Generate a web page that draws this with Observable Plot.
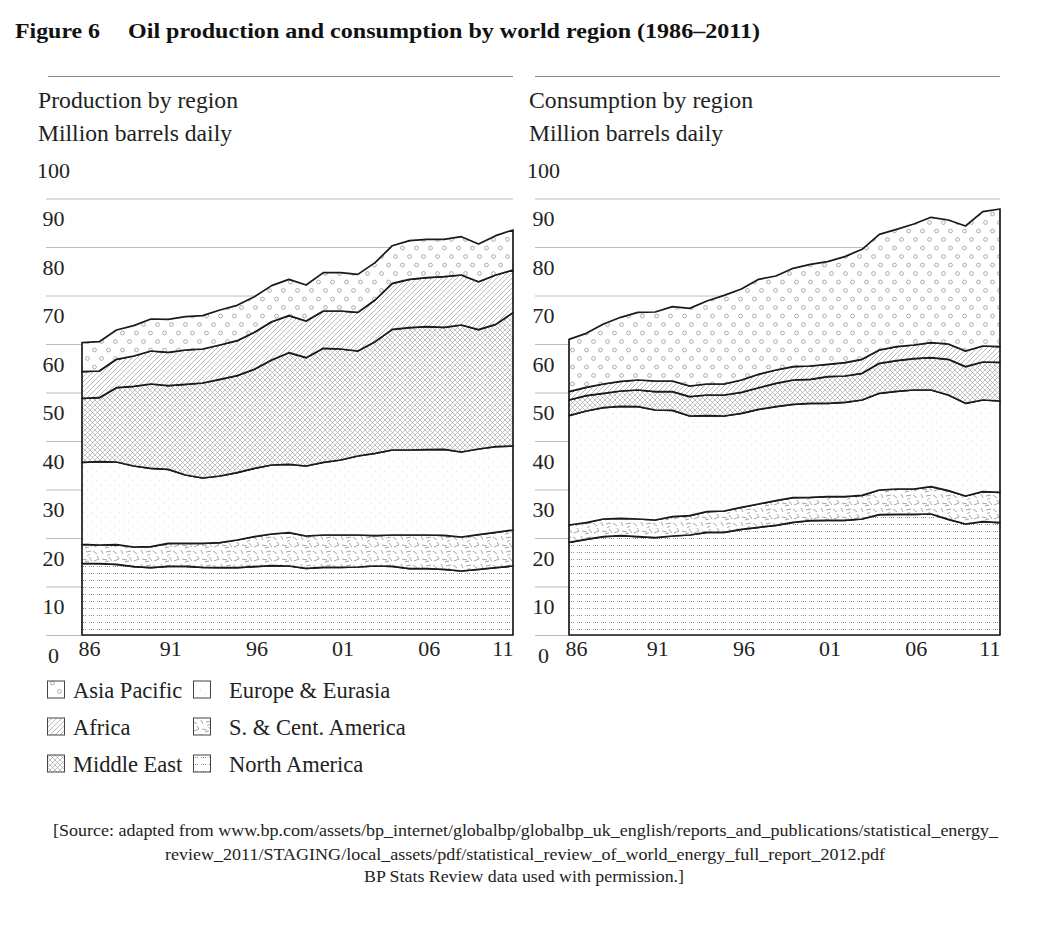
<!DOCTYPE html>
<html><head><meta charset="utf-8">
<script src="https://cdn.jsdelivr.net/npm/d3@7"></script>
<script src="https://cdn.jsdelivr.net/npm/@observablehq/plot@0.6"></script>
<style>
html,body{margin:0;padding:0;background:#fff;}
body{width:1055px;height:925px;position:relative;overflow:hidden;font-family:"Liberation Serif","Times New Roman",serif;color:#222;}
.abs{position:absolute;}
</style></head><body>
<svg width="0" height="0" style="position:absolute">
<defs>
  <pattern id="pNA" width="8" height="7" patternUnits="userSpaceOnUse">
    <rect width="8" height="7" fill="#fff"/>
    <rect x="1" y="3" width="1" height="1" fill="#8c8c8c"/>
    <rect x="3" y="3" width="1" height="1" fill="#8c8c8c"/>
    <rect x="5" y="3" width="1" height="1" fill="#8c8c8c"/>
  </pattern>
  <pattern id="pSCA" width="20" height="14" patternUnits="userSpaceOnUse">
    <rect width="20" height="14" fill="#fff"/>
    <path d="M2 3 l5 1 M9 1 l3 4 M14 5 l5 -2 M1 8 l2 4 M6 10 l5 -1 M13 9 l4 3 M17 0 l2 3 M5 6 l4 -1 M10 12 l-3 2" stroke="#8c8c8c" stroke-width="0.8" fill="none"/>
  </pattern>
  <pattern id="pEU" width="9" height="9" patternUnits="userSpaceOnUse">
    <rect width="9" height="9" fill="#fff"/>
    <rect x="2" y="2" width="1" height="1" fill="#dcdcdc"/>
    <rect x="6" y="6" width="1" height="1" fill="#e2e2e2"/>
  </pattern>
  <pattern id="pME" width="5" height="5" patternUnits="userSpaceOnUse">
    <rect width="5" height="5" fill="#fff"/>
    <path d="M-1 -1 L6 6 M6 -1 L-1 6" stroke="#999" stroke-width="0.6" fill="none"/>
  </pattern>
  <pattern id="pAF" width="5" height="5" patternUnits="userSpaceOnUse">
    <rect width="5" height="5" fill="#fff"/>
    <path d="M-1 6 L6 -1 M-1 1 L1 -1 M4 6 L6 4" stroke="#999" stroke-width="0.7" fill="none"/>
  </pattern>
  <pattern id="pAP" width="14" height="17" patternUnits="userSpaceOnUse">
    <rect width="14" height="17" fill="#fff"/>
    <circle cx="3.5" cy="4.5" r="1.9" stroke="#8a8a8a" stroke-width="0.7" fill="none"/>
    <circle cx="10.5" cy="13" r="1.9" stroke="#8a8a8a" stroke-width="0.7" fill="none"/>
  </pattern>
</defs>
</svg>

<svg class="abs" style="left:0;top:0" width="1055" height="150">
  <text x="15" y="38" font-weight="bold" font-size="22" textLength="85" lengthAdjust="spacingAndGlyphs" fill="#111">Figure 6</text>
  <text x="128" y="38" font-weight="bold" font-size="22" textLength="632" lengthAdjust="spacingAndGlyphs" fill="#111">Oil production and consumption by world region (1986–2011)</text>
  <line x1="48" x2="513" y1="76.5" y2="76.5" stroke="#888" stroke-width="1.2"/>
  <line x1="535" x2="1000" y1="76.5" y2="76.5" stroke="#888" stroke-width="1.2"/>
  <text x="38" y="108" font-size="23" textLength="200" lengthAdjust="spacingAndGlyphs" fill="#222">Production by region</text>
  <text x="38" y="141" font-size="23" textLength="194" lengthAdjust="spacingAndGlyphs" fill="#222">Million barrels daily</text>
  <text x="529" y="108" font-size="23" textLength="224" lengthAdjust="spacingAndGlyphs" fill="#222">Consumption by region</text>
  <text x="529" y="141" font-size="23" textLength="194" lengthAdjust="spacingAndGlyphs" fill="#222">Million barrels daily</text>
</svg>

<div id="left" class="abs" style="left:0;top:150px"></div>
<div id="right" class="abs" style="left:520px;top:150px"></div>
<svg id="legend" class="abs" style="left:0;top:670px" width="460" height="110"></svg>
<svg class="abs" style="left:0;top:810px" width="1055" height="90">
  <text x="525.5" y="26" text-anchor="middle" font-size="17" textLength="945" lengthAdjust="spacingAndGlyphs" fill="#222">[Source: adapted from www.bp.com/assets/bp_internet/globalbp/globalbp_uk_english/reports_and_publications/statistical_energy_</text>
  <text x="525" y="50" text-anchor="middle" font-size="17" textLength="720" lengthAdjust="spacingAndGlyphs" fill="#222">review_2011/STAGING/local_assets/pdf/statistical_review_of_world_energy_full_report_2012.pdf</text>
  <text x="524" y="72" text-anchor="middle" font-size="17" textLength="320" lengthAdjust="spacingAndGlyphs" fill="#222">BP Stats Review data used with permission.]</text>
</svg>

<script>
// ---------- data ----------
const years = [1986,1987,1988,1989,1990,1991,1992,1993,1994,1995,1996,1997,1998,1999,2000,2001,2002,2003,2004,2005,2006,2007,2008,2009,2010,2011];
// stacking order, bottom to top
const regions = ["North America","S. & Cent. America","Europe & Eurasia","Middle East","Africa","Asia Pacific"];
const patterns = ["url(#pNA)","url(#pSCA)","url(#pEU)","url(#pME)","url(#pAF)","url(#pAP)"];

// Production, million barrels daily
const prodNorthAmerica = [14.78,14.71,14.57,14.09,13.88,14.16,14.16,13.95,13.88,13.88,14.09,14.30,14.23,13.75,13.95,13.95,14.02,14.23,14.16,13.68,13.68,13.54,13.20,13.54,13.88,14.23];
const prodSCAmerica    = [3.91,3.85,4.06,4.05,4.33,4.74,4.74,4.95,5.16,5.71,6.18,6.52,6.87,6.66,6.67,6.67,6.60,6.25,6.46,6.94,6.94,7.01,7.01,7.15,7.29,7.42];
const prodEurope       = [16.91,17.18,17.04,16.71,16.15,15.26,14.09,13.47,13.74,13.88,14.09,14.23,14.09,14.44,14.98,15.46,16.29,16.98,17.52,17.52,17.59,17.73,17.52,17.66,17.66,17.32];
const prodMiddleEast   = [13.20,13.19,15.33,16.42,17.39,17.25,18.69,19.59,19.93,20.00,20.42,21.65,23.02,22.33,23.51,22.89,21.65,23.02,24.88,25.23,25.36,25.16,26.19,24.61,25.22,27.49];
const prodAfrica       = [5.50,5.50,5.84,6.26,6.81,6.87,7.08,7.01,7.08,7.22,7.63,7.90,7.63,7.56,7.69,7.83,7.97,8.59,9.49,9.96,10.11,10.44,10.31,9.89,10.18,8.80];
const prodAsiaPacific  = [5.97,6.05,6.05,6.25,6.59,6.81,6.88,6.87,7.22,7.28,7.35,7.43,7.49,7.42,7.91,7.91,7.83,7.70,7.76,7.98,7.90,7.70,7.90,7.77,8.11,8.25];

// Consumption, million barrels daily
const consNorthAmerica = [19.11,19.73,20.27,20.48,20.27,20.07,20.41,20.62,21.17,21.17,21.79,22.20,22.61,23.23,23.57,23.64,23.64,23.92,24.81,24.88,24.88,24.95,23.85,22.89,23.37,23.16];
const consSCAmerica    = [3.57,3.43,3.65,3.57,3.65,3.64,3.99,3.98,4.26,4.40,4.53,4.81,5.09,5.09,4.81,4.88,4.88,4.88,5.09,5.22,5.22,5.63,5.91,5.77,6.18,6.26];
const consEurope       = [22.54,23.03,22.95,23.10,23.16,22.68,21.92,20.55,19.79,19.58,19.38,19.52,19.38,19.24,19.39,19.25,19.45,19.65,19.93,20.14,20.42,19.94,19.72,19.11,18.90,18.83];
const consMiddleEast   = [3.23,3.16,2.96,3.16,3.44,3.78,3.85,3.99,4.26,4.33,4.33,4.46,4.81,5.02,4.94,5.49,5.43,5.50,6.18,6.32,6.46,6.66,7.36,7.56,7.84,7.97];
const consAfrica       = [1.72,1.72,1.92,1.99,2.06,2.20,2.20,2.20,2.27,2.27,2.55,2.76,2.75,2.75,2.75,2.55,2.75,2.89,2.75,2.89,2.81,3.09,3.16,3.23,3.30,3.23];
const consAsiaPacific  = [10.79,11.13,12.37,13.20,13.95,14.23,15.33,16.01,17.12,18.28,18.76,19.58,19.38,20.27,20.97,21.17,21.86,22.68,23.85,24.19,24.95,25.85,25.57,25.77,27.70,28.39];

// Axis ticks
const yTicks = [0,10,20,30,40,50,60,70,80,90,100];
const gridTicks = [0,10,20,30,40,50,60,70,80,90];
const xTickYears = [1986,1991,1996,2001,2006,2011];
const xTickLabels = ["86","91","96","01","06","11"];

// Legend layout (columns)
const legendCol1 = ["Asia Pacific","Africa","Middle East"];
const legendCol2 = ["Europe & Eurasia","S. & Cent. America","North America"];

// ---------- build ----------
function longTable(series) {
  const rows = [];
  regions.forEach((r, i) => years.forEach((y, j) => rows.push({year: y, region: r, value: series[i][j]})));
  return rows;
}
const xt = xTickYears.map((y, i) => ({year: y, label: xTickLabels[i]}));

function chart(series, o) {
  const data = longTable(series);
  return Plot.plot({
    width: 520, height: 525,
    marginLeft: o.ml, marginRight: o.mr, marginTop: 0, marginBottom: 40,
    x: {domain: [1986, 2011], axis: null},
    y: {domain: [0, 100], axis: null},
    color: {domain: regions, range: patterns},
    style: {fontFamily: '"Liberation Serif","Times New Roman",serif', fontSize: "22px", color: "#222", background: "transparent", overflow: "visible"},
    marks: [
      Plot.ruleY(gridTicks, {stroke: "#bdbdbd", strokeWidth: 1.2, insetLeft: o.gridInset}),
      Plot.areaY(data, Plot.stackY({x: "year", y: "value", z: "region", fill: "region", stroke: "#1a1a1a", strokeWidth: 1.7, strokeLinejoin: "round"})),
      Plot.text(yTicks, {y: d => d, text: d => String(d), frameAnchor: "left", dx: o.ydx, dy: 20, textAnchor: "middle", fill: "#222"}),
      Plot.text(xt.slice(0, 1), {x: "year", text: "label", frameAnchor: "bottom", dy: 20, dx: -4, textAnchor: "start", fill: "#222"}),
      Plot.text(xt.slice(1, -1), {x: "year", text: "label", frameAnchor: "bottom", dy: 20, dx: 2, textAnchor: "middle", fill: "#222"}),
      Plot.text(xt.slice(-1), {x: "year", text: "label", frameAnchor: "bottom", dy: 20, dx: 0, textAnchor: "end", fill: "#222"})
    ]
  });
}

document.getElementById("left").append(chart(
  [prodNorthAmerica, prodSCAmerica, prodEurope, prodMiddleEast, prodAfrica, prodAsiaPacific],
  {ml: 82, mr: 7, gridInset: -36, ydx: -29}));
document.getElementById("right").append(chart(
  [consNorthAmerica, consSCAmerica, consEurope, consMiddleEast, consAfrica, consAsiaPacific],
  {ml: 49, mr: 40, gridInset: -34, ydx: -26}));

// legend
const lg = d3.select("#legend");
const patOf = r => patterns[regions.indexOf(r)];
[[legendCol1, 47, 73], [legendCol2, 193, 229]].forEach(([labels, sx, tx]) => {
  labels.forEach((lab, i) => {
    const cy = 20 + i * 37;
    lg.append("rect").attr("x", sx + 0.5).attr("y", cy - 9).attr("width", 17).attr("height", 17)
      .attr("fill", patOf(lab)).attr("stroke", "#444").attr("stroke-width", 1);
    lg.append("text").attr("x", tx).attr("y", cy + 7.5).attr("font-size", 22.5).attr("fill", "#222").text(lab);
  });
});
</script>
</body></html>
